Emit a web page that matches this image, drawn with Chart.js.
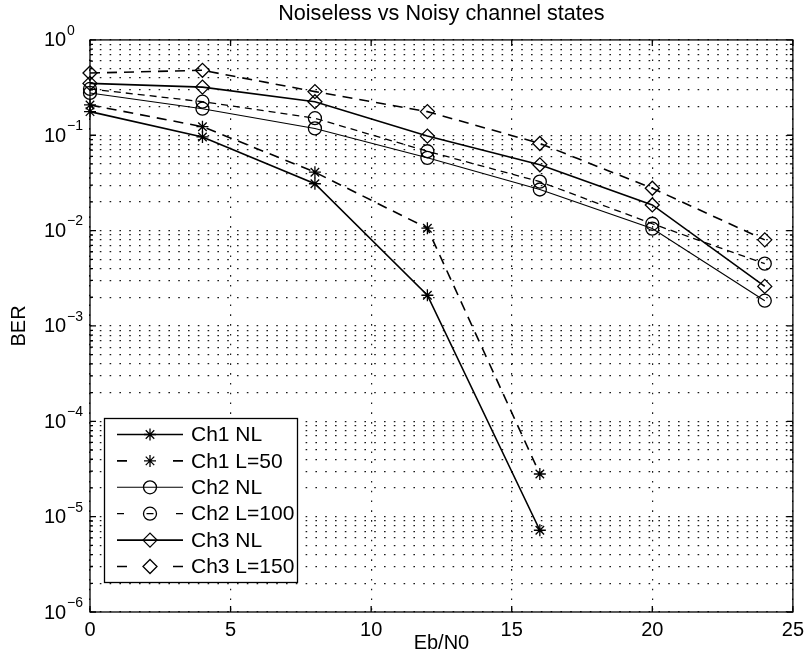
<!DOCTYPE html>
<html>
<head>
<meta charset="utf-8">
<title>Noiseless vs Noisy channel states</title>
<script src="https://cdn.jsdelivr.net/npm/chart.js@4.4.1/dist/chart.umd.min.js"></script>
<style>
  html, body { margin: 0; padding: 0; background: #fff; }
</style>
</head>
<body>
<canvas id="ber" width="810" height="652"></canvas>
<script>
// Eb/N0 sample points
const ebno = [0, 4, 8, 12, 16, 20, 24];

// BER curves, noiseless (NL) vs noisy channels
const ch1NL   = [0.177, 0.096, 0.031, 0.0021, 7.2e-6];
const ch1L50  = [0.208, 0.123, 0.041, 0.0106, 2.8e-5];
const ch2NL   = [0.278, 0.19, 0.118, 0.058, 0.027, 0.0105, 0.00184];
const ch2L100 = [0.306, 0.225, 0.151, 0.068, 0.0326, 0.0118, 0.0045];
const ch3NL   = [0.35, 0.32, 0.225, 0.098, 0.049, 0.0186, 0.0026];
const ch3L150 = [0.45, 0.48, 0.287, 0.177, 0.082, 0.0278, 0.008];

const seriesNames = ['Ch1 NL', 'Ch1 L=50', 'Ch2 NL', 'Ch2 L=100', 'Ch3 NL', 'Ch3 L=150'];

// axis ticks
const xTicks = [0, 5, 10, 15, 20, 25];
const yExponents = [0, -1, -2, -3, -4, -5, -6];

const FONT = "'Liberation Sans', Arial, Helvetica, sans-serif";

// log grid: every 1..9 x 10^e between the decades
const yGrid = [];
for (let e = Math.min(...yExponents); e < Math.max(...yExponents); e++) {
  for (let m = 1; m < 10; m++) yGrid.push(m * Math.pow(10, e));
}
yGrid.push(Math.pow(10, Math.max(...yExponents)));

function points(values) {
  return values.map((v, i) => ({ x: ebno[i], y: v }));
}

function series(label, values, style) {
  return Object.assign({
    label: label,
    data: points(values),
    borderColor: '#000',
    backgroundColor: 'rgba(0,0,0,0)',
    pointBorderColor: '#000',
    pointBackgroundColor: 'rgba(0,0,0,0)',
    borderWidth: 1.6,
    pointBorderWidth: 1.3,
    tension: 0,
    clip: false,
    borderDash: []
  }, style);
}

const datasets = [
  series(seriesNames[0], ch1NL,   { pointStyle: 'star', pointRadius: 6 }),
  series(seriesNames[1], ch1L50,  { pointStyle: 'star', pointRadius: 6, borderDash: [10, 7] }),
  series(seriesNames[2], ch2NL,   { pointStyle: 'circle', pointRadius: 6.5, borderWidth: 1.1 }),
  series(seriesNames[3], ch2L100, { pointStyle: 'circle', pointRadius: 6.5, borderDash: [7, 5], borderWidth: 1.3 }),
  series(seriesNames[4], ch3NL,   { pointStyle: 'rectRot', pointRadius: 7 }),
  series(seriesNames[5], ch3L150, { pointStyle: 'rectRot', pointRadius: 7, borderDash: [10, 7] })
];

// box, inward ticks and 10^n labels on the value axis
const axesFrame = {
  id: 'axesFrame',
  afterDatasetsDraw(chart) {
    const { ctx, chartArea: a, scales: { x, y } } = chart;
    ctx.save();
    ctx.strokeStyle = '#000';
    ctx.lineWidth = 1.3;
    ctx.strokeRect(a.left, a.top, a.right - a.left, a.bottom - a.top);

    ctx.beginPath();
    xTicks.forEach(v => {
      const px = x.getPixelForValue(v);
      ctx.moveTo(px, a.bottom); ctx.lineTo(px, a.bottom - 6);
      ctx.moveTo(px, a.top);    ctx.lineTo(px, a.top + 6);
    });
    yGrid.forEach(v => {
      const py = y.getPixelForValue(v);
      const decade = Math.abs(Math.log10(v) - Math.round(Math.log10(v))) < 1e-9;
      const len = decade ? 6 : 3;
      ctx.moveTo(a.left, py);  ctx.lineTo(a.left + len, py);
      ctx.moveTo(a.right, py); ctx.lineTo(a.right - len, py);
    });
    ctx.stroke();

    ctx.fillStyle = '#000';
    ctx.textBaseline = 'middle';
    ctx.textAlign = 'left';
    yExponents.forEach(e => {
      const py = y.getPixelForValue(Math.pow(10, e));
      ctx.font = '20px ' + FONT;
      ctx.fillText('10', 44, py + 1);
      ctx.font = '14px ' + FONT;
      ctx.fillText(e === 0 ? '0' : '\u2212' + Math.abs(e), 67, py - 9);
    });
    ctx.restore();
  }
};

// boxed legend in the lower left of the plot
const boxLegend = {
  id: 'boxLegend',
  afterDraw(chart) {
    const { ctx } = chart;
    const box = { x: 104.5, y: 418.5, w: 193, h: 164 };
    const rowH = 26.4;
    ctx.save();
    ctx.fillStyle = '#fff';
    ctx.fillRect(box.x, box.y, box.w, box.h);
    ctx.strokeStyle = '#000';
    ctx.lineWidth = 1.3;
    ctx.strokeRect(box.x, box.y, box.w, box.h);

    chart.data.datasets.forEach((ds, i) => {
      const cy = box.y + 16 + i * rowH;
      const x0 = 117, x1 = 183, xm = 150;
      ctx.strokeStyle = ds.borderColor;
      ctx.lineWidth = ds.borderWidth;
      ctx.setLineDash([]);
      ctx.beginPath();
      if (ds.borderDash.length) {
        // end dashes, plus a centre one for the short-dash pattern
        const d = Math.min(ds.borderDash[0], 11);
        ctx.moveTo(x0, cy); ctx.lineTo(x0 + d, cy);
        ctx.moveTo(x1 - d, cy); ctx.lineTo(x1, cy);
        if (ds.borderDash[0] < 9) {
          ctx.moveTo(xm - d / 2, cy); ctx.lineTo(xm + d / 2, cy);
        }
      } else {
        ctx.moveTo(x0, cy); ctx.lineTo(x1, cy);
      }
      ctx.stroke();

      ctx.fillStyle = 'rgba(0,0,0,0)';
      ctx.strokeStyle = ds.pointBorderColor;
      ctx.lineWidth = ds.pointBorderWidth;
      Chart.helpers.drawPoint(ctx, {
        pointStyle: ds.pointStyle,
        radius: ds.pointRadius,
        rotation: 0,
        borderWidth: ds.pointBorderWidth
      }, xm, cy);

      ctx.fillStyle = '#000';
      ctx.font = '21px ' + FONT;
      ctx.textBaseline = 'middle';
      ctx.textAlign = 'left';
      ctx.fillText(ds.label, 191, cy + 1);
    });
    ctx.restore();
  }
};

const whiteBg = {
  id: 'whiteBg',
  beforeDraw(chart) {
    const { ctx, width, height } = chart;
    ctx.save();
    ctx.fillStyle = '#fff';
    ctx.fillRect(0, 0, width, height);
    ctx.restore();
  }
};

const dotted = { color: '#1a1a1a', lineWidth: 1.2, drawTicks: false };

new Chart(document.getElementById('ber'), {
  type: 'line',
  data: { datasets: datasets },
  plugins: [whiteBg, axesFrame, boxLegend],
  options: {
    responsive: false,
    animation: false,
    events: [],
    devicePixelRatio: 1,
    layout: { padding: { left: 0, right: 13, top: 0, bottom: 0 }, autoPadding: false },
    plugins: {
      legend: { display: false },
      tooltip: { enabled: false },
      title: {
        display: true,
        text: 'Noiseless vs Noisy channel states',
        color: '#000',
        fullSize: false,
        font: { family: FONT, size: 21.6, weight: 'normal', lineHeight: 1.2 },
        padding: { top: 1, bottom: 13 }
      }
    },
    scales: {
      x: {
        type: 'linear',
        min: 0,
        max: 25,
        afterBuildTicks: scale => { scale.ticks = xTicks.map(v => ({ value: v })); },
        afterFit: scale => { scale.height = 40; },
        grid: dotted,
        border: { display: false, dash: [1.6, 8.2] },
        ticks: {
          color: '#000',
          padding: 6,
          maxRotation: 0,
          font: { family: FONT, size: 20 }
        },
        title: {
          display: true,
          text: 'Eb/N0',
          color: '#000',
          font: { family: FONT, size: 20, lineHeight: 1 },
          padding: { top: 0, bottom: -1 }
        }
      },
      y: {
        type: 'logarithmic',
        min: Math.pow(10, Math.min(...yExponents)),
        max: Math.pow(10, Math.max(...yExponents)),
        afterBuildTicks: scale => { scale.ticks = yGrid.map(v => ({ value: v })); },
        afterFit: scale => { scale.width = 90; },
        grid: dotted,
        border: { display: false, dash: [1.6, 8.2] },
        ticks: { display: false },
        title: {
          display: true,
          text: 'BER',
          color: '#000',
          font: { family: FONT, size: 20, lineHeight: 1.2 },
          padding: { top: 7, bottom: 0 }
        }
      }
    }
  }
});
</script>
</body>
</html>
